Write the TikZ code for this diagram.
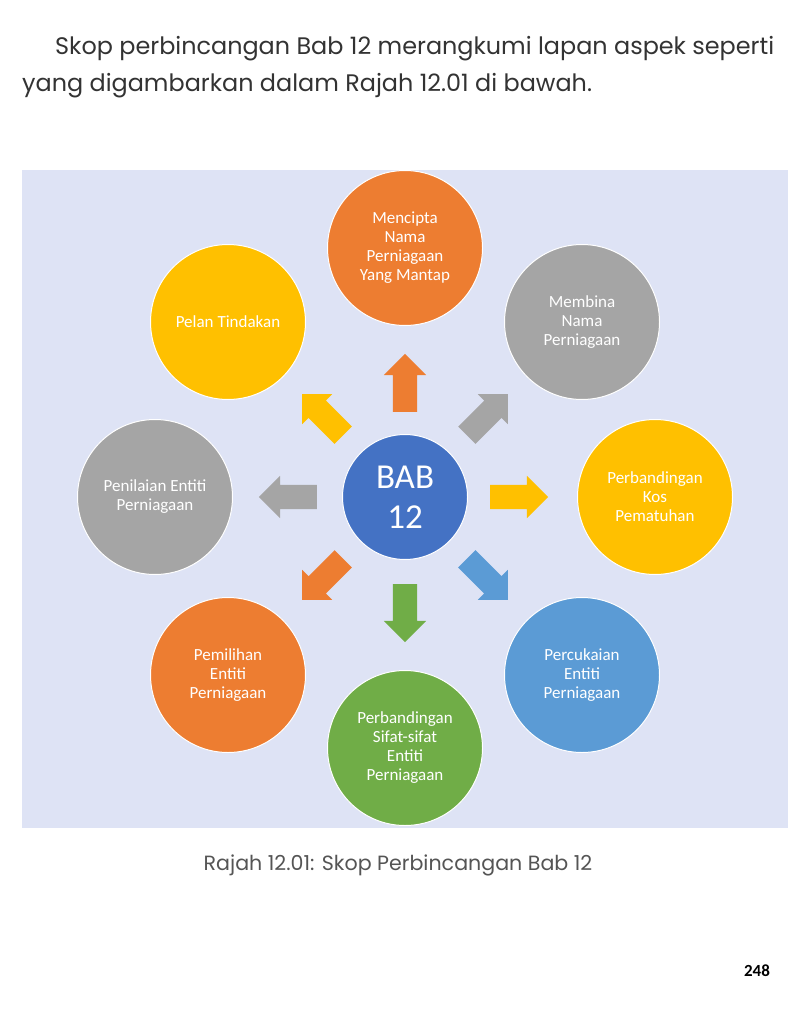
\documentclass[tikz,border=0pt]{standalone}
\usepackage{fontspec}
\setmainfont{Carlito}
\newfontfamily\popfont{Poppins}
\usetikzlibrary{shapes.arrows,calc}
\definecolor{cOrange}{HTML}{ED7D31}
\definecolor{cGray}{HTML}{A5A5A5}
\definecolor{cYellow}{HTML}{FFC000}
\definecolor{cBlue}{HTML}{4472C4}
\definecolor{cLBlue}{HTML}{5B9BD5}
\definecolor{cGreen}{HTML}{70AD47}
\definecolor{cPanel}{HTML}{DEE3F5}
\definecolor{cText}{HTML}{333333}
\definecolor{cCap}{HTML}{555555}
\tikzset{
  topic/.style={circle, minimum size=155pt, inner sep=0pt, draw=white, line width=1pt,
    text=white, align=center, font=\fontsize{17}{19}\selectfont},
  hub/.style={circle, minimum size=125pt, inner sep=0pt, draw=white, line width=1pt,
    text=white, align=center, font=\fontsize{35}{40}\selectfont, fill=cBlue},
  blockarrow/.style={single arrow, single arrow head extend=9pt,
    minimum height=58pt, inner xsep=0pt, inner ysep=12pt, draw=none}
}
\begin{document}
\begin{tikzpicture}[x=1pt,y=-1pt]
\useasboundingbox (0,0) rectangle (802,1024);
\fill[white] (0,0) rectangle (802,1024);
\fill[cPanel] (22,170) rectangle (788,828);
% heading
\node[anchor=base west, inner sep=0pt, text=cText, font=\popfont\fontsize{23.9}{28}\selectfont] (h1) at (55,55) {Skop perbincangan Bab 12 merangkumi lapan aspek seperti};
\node[anchor=base west, inner sep=0pt, text=cText, font=\popfont\fontsize{23.9}{28}\selectfont] (h2) at (22,92) {yang digambarkan dalam Rajah 12.01 di bawah.};
% centre
\node[hub] (c) at (405,497) {BAB\\12};
% satellites
\node[topic, fill=cOrange] (n) at (405,248) {Mencipta\\Nama\\Perniagaan\\Yang Mantap};
\node[topic, fill=cGray] (ne) at (582,322) {Membina\\Nama\\Perniagaan};
\node[topic, fill=cYellow] (e) at (655,497) {Perbandingan\\Kos\\Pematuhan};
\node[topic, fill=cLBlue] (se) at (582,675) {Percukaian\\Entiti\\Perniagaan};
\node[topic, fill=cGreen] (s) at (405,748) {Perbandingan\\Sifat-sifat\\Entiti\\Perniagaan};
\node[topic, fill=cOrange] (sw) at (228,675) {Pemilihan\\Entiti\\Perniagaan};
\node[topic, fill=cGray] (w) at (155,497) {Penilaian Entiti\\Perniagaan};
\node[topic, fill=cYellow] (nw) at (228,322) {Pelan Tindakan};
% arrows
\node[blockarrow, fill=cOrange, rotate=90] (an) at ($(c)+(0,-108)$) {};
\node[blockarrow, fill=cGray, rotate=45] (ane) at ($(c)+(78,-78)$) {};
\node[blockarrow, fill=cYellow, rotate=0] (ae) at ($(c)+(108,0)$) {};
\node[blockarrow, fill=cLBlue, rotate=-45] (ase) at ($(c)+(78,78)$) {};
\node[blockarrow, fill=cGreen, rotate=-90] (as) at ($(c)+(0,110)$) {};
\node[blockarrow, fill=cOrange, rotate=-135] (asw) at ($(c)+(-78,78)$) {};
\node[blockarrow, fill=cGray, rotate=180] (aw) at ($(c)+(-111,0)$) {};
\node[blockarrow, fill=cYellow, rotate=135] (anw) at ($(c)+(-78,-78)$) {};
% caption and page number
\node[anchor=base, inner sep=0pt, text=cCap, font=\popfont\fontsize{20.6}{24}\selectfont] (cap) at (398,870) {Rajah 12.01: Skop Perbincangan Bab 12};
\node[anchor=base, inner sep=0pt, text=black, font=\bfseries\fontsize{17}{20}\selectfont] (pg) at (757,976) {248};
\end{tikzpicture}
\end{document}
